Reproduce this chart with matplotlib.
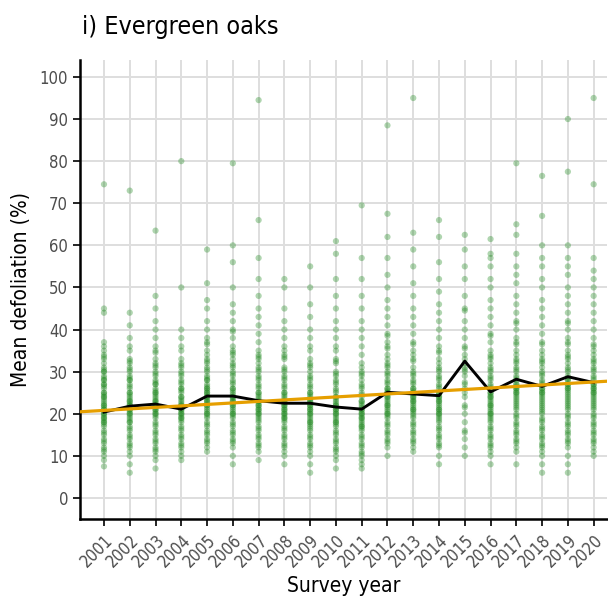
import matplotlib.pyplot as plt
import numpy as np

plt.rcParams['font.family'] = ['DejaVu Sans']
plt.rcParams['font.stretch'] = 'condensed'

years = list(range(2001, 2021))

# tree defoliation values read per survey year (outliers and spread)
d2001 = [74.5, 45, 44, 37, 36, 35, 34, 33, 32, 31, 30, 30, 29, 28, 28, 27, 27, 26, 25, 25, 24, 24, 23, 22, 22,
         21, 21, 20, 20, 19, 19, 18, 18, 17, 16, 15, 14, 13, 12, 11, 10, 9, 7.5]
d2002 = [73, 44, 41, 38, 36, 35, 33, 32, 31, 30, 29, 28, 28, 27, 26, 25, 25, 24, 23, 23, 22, 22, 21, 21, 20,
         20, 19, 18, 18, 17, 16, 15, 14, 13, 12, 11, 10, 8, 6]
d2003 = [63.5, 48, 45, 42, 40, 38, 36, 35, 33, 32, 31, 30, 29, 28, 27, 27, 26, 25, 25, 24, 23, 23, 22, 22, 21,
         21, 20, 20, 19, 18, 17, 16, 15, 14, 13, 12, 11, 10, 9, 7]
d2004 = [80, 50, 40, 38, 36, 35, 33, 32, 31, 30, 29, 28, 27, 26, 26, 25, 24, 24, 23, 22, 22, 21, 21, 20, 20,
         19, 19, 18, 17, 16, 15, 14, 13, 12, 11, 10, 9]
d2005 = [59, 51, 47, 45, 42, 40, 38, 37, 35, 34, 33, 32, 31, 30, 29, 28, 28, 27, 26, 26, 25, 25, 24, 24, 23,
         23, 22, 22, 21, 20, 20, 19, 18, 17, 16, 15, 14, 13, 12, 11]
d2006 = [79.5, 60, 56, 50, 46, 44, 42, 40, 38, 36, 35, 34, 33, 32, 31, 30, 29, 28, 27, 26, 26, 25, 24, 24, 23,
         23, 22, 22, 21, 20, 20, 19, 18, 17, 16, 15, 14, 13, 12, 10, 8]
d2007 = [94.5, 66, 57, 52, 48, 45, 43, 41, 39, 37, 35, 34, 33, 32, 31, 30, 29, 28, 27, 26, 25, 25, 24, 23, 23,
         22, 22, 21, 21, 20, 20, 19, 18, 17, 16, 15, 14, 13, 12, 11, 9]
d2008 = [52, 50, 45, 42, 40, 38, 36, 35, 34, 33, 31, 30, 29, 28, 27, 26, 25, 25, 24, 23, 23, 22, 22, 21, 21,
         20, 20, 19, 19, 18, 17, 16, 15, 14, 13, 12, 11, 10, 8]
d2009 = [55, 50, 46, 43, 40, 38, 36, 35, 33, 32, 31, 30, 29, 28, 27, 26, 25, 25, 24, 23, 23, 22, 22, 21, 21,
         20, 20, 19, 18, 18, 17, 16, 15, 14, 13, 12, 11, 10, 8, 6]
d2010 = [61, 58, 52, 48, 45, 42, 40, 38, 36, 35, 33, 32, 30, 29, 28, 27, 26, 25, 24, 24, 23, 22, 22, 21, 21,
         20, 20, 19, 18, 18, 17, 16, 15, 14, 13, 12, 11, 10, 9, 7]
d2011 = [69.5, 57, 52, 48, 45, 42, 40, 38, 36, 34, 32, 31, 30, 29, 28, 27, 26, 25, 24, 23, 23, 22, 21, 21, 20,
         20, 19, 19, 18, 17, 17, 16, 15, 14, 13, 12, 11, 10, 9, 8, 7]
d2012 = [88.5, 67.5, 62, 57, 53, 50, 47, 45, 43, 41, 39, 37, 36, 34, 33, 32, 31, 30, 29, 28, 27, 26, 26, 25, 25,
         24, 24, 23, 22, 22, 21, 20, 20, 19, 18, 17, 16, 15, 14, 13, 12, 10]
d2013 = [95, 63, 59, 55, 51, 48, 45, 43, 41, 39, 37, 35, 34, 33, 31, 30, 29, 28, 27, 26, 26, 25, 25, 24, 24,
         23, 23, 22, 21, 21, 20, 19, 18, 17, 16, 15, 14, 13, 12, 11]
d2014 = [66, 62, 56, 52, 49, 46, 44, 42, 40, 38, 36, 35, 33, 32, 31, 30, 29, 28, 27, 26, 25, 25, 24, 24, 23,
         23, 22, 21, 21, 20, 20, 19, 18, 17, 16, 15, 14, 13, 12, 10, 8]
d2015 = [62.5, 59, 55, 52, 48, 45, 42, 40, 38, 36, 34, 33, 32, 31, 30, 29, 27, 26, 25, 24, 22, 20, 18, 16,
         14, 12, 10]
d2016 = [61.5, 58, 57, 55, 52, 50, 47, 45, 43, 41, 39, 37, 35, 34, 33, 32, 31, 30, 29, 28, 27, 26, 25, 25, 24,
         24, 23, 22, 22, 21, 20, 20, 19, 18, 17, 16, 15, 14, 13, 12, 11, 10, 8]
d2017 = [79.5, 65, 62.5, 58, 55, 53, 51, 48, 46, 44, 42, 40, 38, 37, 35, 34, 33, 32, 31, 30, 29, 28, 27, 27, 26,
         26, 25, 25, 24, 23, 22, 21, 20, 19, 18, 17, 16, 15, 14, 13, 12, 11, 8]
d2018 = [76.5, 67, 60, 57, 55, 52, 50, 47, 45, 43, 41, 39, 37, 35, 34, 33, 32, 31, 30, 29, 28, 27, 26, 26, 25,
         25, 24, 23, 22, 21, 20, 19, 18, 17, 16, 15, 14, 13, 12, 11, 10, 8, 6]
d2019 = [90, 77.5, 60, 57, 55, 53, 50, 48, 46, 44, 42, 40, 38, 37, 35, 34, 33, 32, 31, 30, 29, 28, 28, 27, 27,
         26, 26, 25, 24, 23, 22, 21, 20, 19, 18, 17, 16, 15, 14, 13, 12, 10, 8, 6]
d2020 = [95, 74.5, 57, 54, 52, 50, 48, 46, 44, 42, 40, 38, 36, 35, 34, 33, 32, 31, 30, 29, 28, 27, 27, 26, 26,
         25, 25, 24, 23, 22, 21, 20, 19, 18, 17, 16, 15, 14, 13, 12, 11, 10]

# dense core of each column (half-step readings)
c2001 = [11.5, 13.5, 15.5, 17.5, 18.5, 19.5, 20.5, 21.5, 22.5, 23.5, 24.5, 26.5, 28.5, 30.5, 33.5]
c2002 = [12.5, 14.5, 16.5, 18.5, 19.5, 20.5, 21.5, 22.5, 23.5, 24.5, 26.5, 28.5, 30.5, 32.5]
c2003 = [11.5, 13.5, 15.5, 17.5, 19.5, 20.5, 21.5, 22.5, 23.5, 24.5, 25.5, 27.5, 29.5, 31.5, 34.5]
c2004 = [12.5, 14.5, 16.5, 18.5, 19.5, 20.5, 21.5, 22.5, 23.5, 25.5, 27.5, 29.5, 31.5]
c2005 = [13.5, 15.5, 17.5, 19.5, 20.5, 21.5, 22.5, 23.5, 24.5, 25.5, 26.5, 28.5, 30.5, 32.5, 36.5]
c2006 = [13.5, 15.5, 17.5, 19.5, 20.5, 21.5, 22.5, 23.5, 24.5, 25.5, 27.5, 29.5, 31.5, 34.5, 39.5]
c2007 = [12.5, 14.5, 16.5, 18.5, 19.5, 20.5, 21.5, 22.5, 23.5, 24.5, 26.5, 28.5, 30.5, 33.5]
c2008 = [12.5, 14.5, 16.5, 18.5, 19.5, 20.5, 21.5, 22.5, 23.5, 24.5, 26.5, 28.5, 30.5, 33.5]
c2009 = [12.5, 14.5, 16.5, 17.5, 18.5, 19.5, 20.5, 21.5, 22.5, 23.5, 24.5, 26.5, 28.5, 31.5]
c2010 = [11.5, 13.5, 15.5, 17.5, 18.5, 19.5, 20.5, 21.5, 22.5, 23.5, 25.5, 27.5, 29.5, 32.5]
c2011 = [10.5, 12.5, 14.5, 16.5, 17.5, 18.5, 19.5, 20.5, 21.5, 22.5, 24.5, 26.5, 29.5]
c2012 = [13.5, 15.5, 17.5, 19.5, 20.5, 21.5, 22.5, 23.5, 24.5, 25.5, 27.5, 29.5, 31.5, 35.5, 38.5]
c2013 = [13.5, 15.5, 17.5, 19.5, 20.5, 21.5, 22.5, 23.5, 24.5, 25.5, 27.5, 29.5, 32.5, 36.5]
c2014 = [12.5, 14.5, 16.5, 18.5, 19.5, 20.5, 21.5, 22.5, 23.5, 24.5, 26.5, 28.5, 30.5, 34.5]
c2015 = [15.5, 21.5, 27.5, 30.5, 35.5, 44.5]
c2016 = [12.5, 14.5, 16.5, 18.5, 19.5, 20.5, 21.5, 22.5, 23.5, 24.5, 26.5, 28.5, 30.5, 33.5, 38.5]
c2017 = [13.5, 15.5, 17.5, 19.5, 21.5, 22.5, 23.5, 24.5, 25.5, 26.5, 28.5, 30.5, 32.5, 36.5, 41.5]
c2018 = [12.5, 14.5, 16.5, 18.5, 20.5, 21.5, 22.5, 23.5, 24.5, 25.5, 27.5, 29.5, 32.5, 36.5]
c2019 = [13.5, 15.5, 17.5, 19.5, 21.5, 22.5, 23.5, 24.5, 25.5, 26.5, 28.5, 30.5, 33.5, 36.5, 41.5]
c2020 = [13.5, 15.5, 17.5, 19.5, 21.5, 22.5, 23.5, 24.5, 25.5, 26.5, 28.5, 30.5, 32.5, 36.5]

tree_values = [d2001, d2002, d2003, d2004, d2005, d2006, d2007, d2008, d2009, d2010,
               d2011, d2012, d2013, d2014, d2015, d2016, d2017, d2018, d2019, d2020]
core_values = [c2001, c2002, c2003, c2004, c2005, c2006, c2007, c2008, c2009, c2010,
               c2011, c2012, c2013, c2014, c2015, c2016, c2017, c2018, c2019, c2020]

# yearly mean defoliation (black line)
mean_defol = [20.4, 21.8, 22.3, 21.1, 24.2, 24.2, 23.1, 22.5, 22.5, 21.6,
              21.1, 25.1, 24.7, 24.3, 32.5, 25.2, 28.2, 26.5, 28.8, 27.4]

# linear trend (orange line)
trend_2001 = 20.8
trend_slope = 0.355

fig = plt.figure(figsize=(6.08, 6.01), dpi=100)
ax = fig.add_axes([0.1316, 0.1364, 0.866, 0.7636])

for yr, vals, core in zip(years, tree_values, core_values):
    allv = vals + core
    ax.scatter([yr] * len(allv), allv, s=20, color='#228B22', alpha=0.36,
               edgecolors='none', zorder=2)

ax.plot(years, mean_defol, color='black', lw=2.1, zorder=3)

xlim = (2000.07, 2020.5)
tx = np.array(xlim)
ax.plot(tx, trend_2001 + trend_slope * (tx - 2001), color='#E69F00', lw=2.3, zorder=4)

ax.set_xlim(*xlim)
ax.set_ylim(-5, 104)
ax.set_xticks(years)
ax.set_xticklabels([str(y) for y in years], rotation=45, ha='right',
                   rotation_mode='anchor', fontsize=12, color='#4d4d4d')
ax.set_yticks(range(0, 101, 10))
ax.tick_params(axis='y', labelsize=12, labelcolor='#4d4d4d')
ax.tick_params(length=5, width=1.2, color='black')

ax.grid(True, color='#dedede', lw=1.4, zorder=0)
ax.set_axisbelow(True)
for s in ['top', 'right']:
    ax.spines[s].set_visible(False)
for s in ['left', 'bottom']:
    ax.spines[s].set_linewidth(1.8)

ax.set_xlabel('Survey year', fontsize=15, labelpad=4)
ax.set_ylabel('Mean defoliation (%)', fontsize=15, labelpad=6)
fig.text(0.135, 0.955, 'i) Evergreen oaks', fontsize=18, va='center', ha='left')

fig.savefig('out.png', dpi=100)
